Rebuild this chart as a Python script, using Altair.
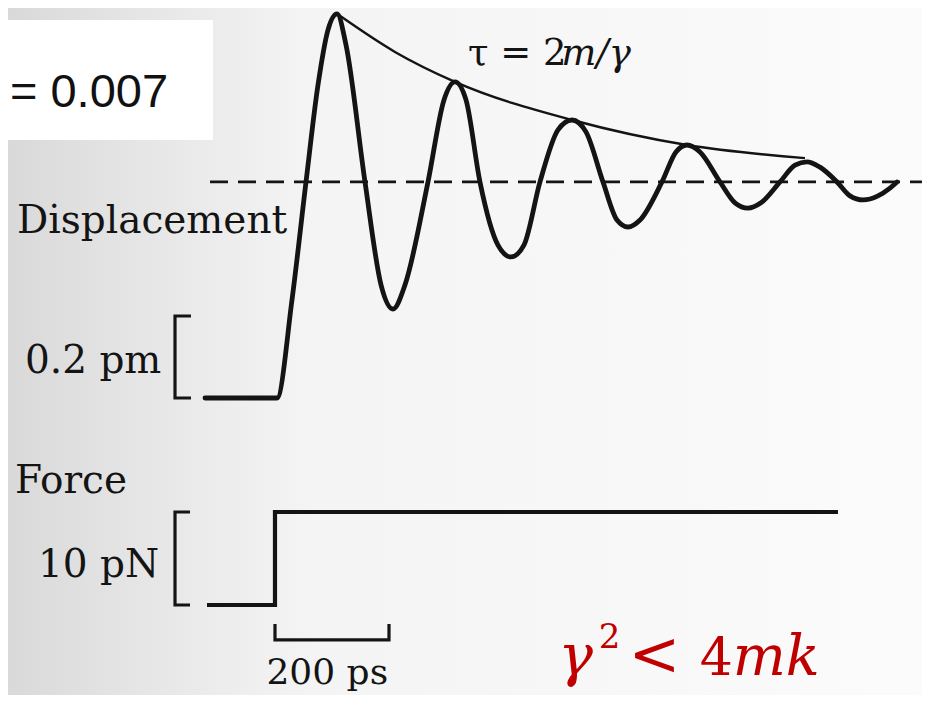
import altair as alt
import pandas as pd

# Units: time t in ps (0 = force step), displacement in pm, force in pN
T_DOM = [-468.4, 1135.1]
D_DOM = [-0.7244, 0.9512]
F_DOM = [-9.677, 64.19]

disp_t = [-122.8, 3.5, 29.8, 54.4, 75.4, 93.0, 108.8, 124.6, 157.9, 186.0, 207.0,
          228.1, 268.4, 296.5, 315.8, 335.1, 359.6, 391.2, 414.0, 436.8, 464.9,
          496.5, 521.1, 545.6, 575.4, 600.0, 619.3, 640.4, 678.9, 703.5, 722.8,
          745.6, 780.7, 807.0, 829.8, 852.6, 886.0, 912.3, 933.3, 956.1, 986.0,
          1008.8, 1031.6, 1057.9, 1078.9, 1091.2]
disp_pm = [0.0, 0.0, 0.239, 0.527, 0.763, 0.898, 0.937, 0.861, 0.527, 0.276, 0.217,
           0.276, 0.527, 0.727, 0.771, 0.727, 0.527, 0.373, 0.344, 0.373, 0.527,
           0.654, 0.678, 0.649, 0.527, 0.434, 0.417, 0.434, 0.527, 0.600, 0.617,
           0.600, 0.527, 0.476, 0.463, 0.476, 0.527, 0.568, 0.576, 0.563, 0.527,
           0.493, 0.483, 0.493, 0.512, 0.527]

env_t = [108.8, 210.5, 315.8, 521.1, 722.8, 929.8]
env_pm = [0.937, 0.844, 0.771, 0.678, 0.617, 0.585]

eq_t = [-114.0, 1135.0]
eq_pm = [0.527, 0.527]

force_t = [-119.3, 0.0, 0.0, 987.7]
force_pn = [0.0, 0.0, 10.0, 10.0]

# scale brackets
dbr_t = [-147.4, -175.4, -175.4, -147.4]
dbr_pm = [0.2, 0.2, 0.0, 0.0]
fbr_t = [-149.1, -175.4, -175.4, -149.1]
fbr_pn = [10.0, 10.0, 0.0, 0.0]
tbar_t = [0.0, 0.0, 200.0, 200.0]
tbar_pn = [-2.04, -3.76, -3.76, -2.04]

W, H = 914, 687

xs = alt.Scale(domain=T_DOM, nice=False, zero=False)
ds = alt.Scale(domain=D_DOM, nice=False, zero=False)
fs = alt.Scale(domain=F_DOM, nice=False, zero=False)

INK = "#141414"


def X(field="t"):
    return alt.X(f"{field}:Q", scale=xs, axis=None)


def YD(field="v"):
    return alt.Y(f"{field}:Q", scale=ds, axis=None)


def YF(field="v"):
    return alt.Y(f"{field}:Q", scale=fs, axis=None)


def path(ts, vs):
    return pd.DataFrame({"t": ts, "v": vs, "o": list(range(len(ts)))})


bg = alt.Chart(pd.DataFrame({"t": [T_DOM[0]], "t2": [T_DOM[1]], "v": [D_DOM[0]], "v2": [D_DOM[1]]})).mark_rect(
    color=alt.LinearGradient(
        gradient="linear", x1=0, x2=1, y1=0, y2=0,
        stops=[alt.GradientStop(color="#d9d9d9", offset=0),
               alt.GradientStop(color="#e6e6e6", offset=0.15),
               alt.GradientStop(color="#f4f4f4", offset=0.33),
               alt.GradientStop(color="#fbfbfb", offset=1)]
    )
).encode(x=X(), x2="t2:Q", y=YD(), y2="v2:Q")

box = alt.Chart(pd.DataFrame({"t": [T_DOM[0]], "t2": [-108.8], "v": [0.629], "v2": [0.922]})).mark_rect(
    color="white"
).encode(x=X(), x2="t2:Q", y=YD(), y2="v2:Q")

box_text = alt.Chart(pd.DataFrame({"t": [-465.0], "v": [0.710], "s": ["= 0.007"]})).mark_text(
    font="Liberation Sans", fontSize=47, align="left", baseline="alphabetic", color="#111111"
).encode(x=X(), y=YD(), text="s:N")

eq = alt.Chart(path(eq_t, eq_pm)).mark_line(
    color=INK, strokeWidth=2.6, strokeDash=[18, 10]
).encode(x=X(), y=YD(), order="o:Q")

env = alt.Chart(path(env_t, env_pm)).mark_line(
    color=INK, strokeWidth=2.4, interpolate="monotone"
).encode(x=X(), y=YD(), order="o:Q")

disp = alt.Chart(path(disp_t, disp_pm)).mark_line(
    color=INK, strokeWidth=4.8, interpolate="monotone", strokeJoin="round", strokeCap="round"
).encode(x=X(), y=YD(), order="o:Q")

dbr = alt.Chart(path(dbr_t, dbr_pm)).mark_line(
    color=INK, strokeWidth=3.2
).encode(x=X(), y=YD(), order="o:Q")

force = alt.Chart(path(force_t, force_pn)).mark_line(
    color=INK, strokeWidth=4.2, strokeJoin="miter"
).encode(x=X(), y=YF(), order="o:Q")

fbr = alt.Chart(path(fbr_t, fbr_pn)).mark_line(
    color=INK, strokeWidth=3.2
).encode(x=X(), y=YF(), order="o:Q")

tbar = alt.Chart(path(tbar_t, tbar_pn)).mark_line(
    color=INK, strokeWidth=3.2
).encode(x=X(), y=YF(), order="o:Q")

serif = dict(font="DejaVu Serif", align="left", baseline="alphabetic", color=INK)

disp_labels = alt.Chart(pd.DataFrame({
    "t": [-452.6, -438.6],
    "v": [0.402, 0.061],
    "s": ["Displacement", "0.2 pm"],
})).mark_text(fontSize=39, **serif).encode(x=X(), y=YD(), text="s:N")

force_labels = alt.Chart(pd.DataFrame({
    "t": [-456.1, -415.8],
    "v": [12.04, 3.01],
    "s": ["Force", "10 pN"],
})).mark_text(fontSize=39, **serif).encode(x=X(), y=YF(), text="s:N")

scale_label = alt.Chart(pd.DataFrame({"t": [-15.0], "v": [-8.50], "s": ["200 ps"]})).mark_text(
    fontSize=36, **serif).encode(x=X(), y=YF(), text="s:N")

tau1 = alt.Chart(pd.DataFrame({"t": [338.6], "v": [0.812], "s": ["τ = 2"]})).mark_text(
    fontSize=37, **serif).encode(x=X(), y=YD(), text="s:N")
tau2 = alt.Chart(pd.DataFrame({"t": [502.0], "v": [0.812], "s": ["m/γ"]})).mark_text(
    fontSize=37, fontStyle="italic", **serif).encode(x=X(), y=YD(), text="s:N")

RED = "#c00000"
red_gamma = alt.Chart(pd.DataFrame({"t": [497.0], "v": [-7.53], "s": ["γ"]})).mark_text(
    font="DejaVu Serif", fontSize=58, fontStyle="italic", align="left", baseline="alphabetic", color=RED
).encode(x=X(), y=YF(), text="s:N")
red_sup = alt.Chart(pd.DataFrame({"t": [568.0], "v": [-4.60], "s": ["2"]})).mark_text(
    font="DejaVu Serif", fontSize=34, align="left", baseline="alphabetic", color=RED
).encode(x=X(), y=YF(), text="s:N")
red_lt = alt.Chart(pd.DataFrame({"t": [620.0], "v": [-7.53], "s": ["<"]})).mark_text(
    font="DejaVu Serif", fontSize=62, align="left", baseline="alphabetic", color=RED
).encode(x=X(), y=YF(), text="s:N")
red_four = alt.Chart(pd.DataFrame({"t": [745.0], "v": [-7.53], "s": ["4"]})).mark_text(
    font="DejaVu Serif", fontSize=52, align="left", baseline="alphabetic", color=RED
).encode(x=X(), y=YF(), text="s:N")
red_mk = alt.Chart(pd.DataFrame({"t": [803.0], "v": [-7.53], "s": ["mk"]})).mark_text(
    font="DejaVu Serif", fontSize=56, fontStyle="italic", align="left", baseline="alphabetic", color=RED
).encode(x=X(), y=YF(), text="s:N")

chart = alt.layer(
    bg, box, box_text, eq, env, disp, dbr, force, fbr, tbar,
    disp_labels, force_labels, scale_label, tau1, tau2,
    red_gamma, red_sup, red_lt, red_four, red_mk
).resolve_scale(y="independent").properties(
    width=W, height=H, padding=0, autosize="none"
).configure_view(stroke=None).configure(background="#ffffff")

chart.save("out.html", embed_options={"renderer": "svg", "actions": False})
